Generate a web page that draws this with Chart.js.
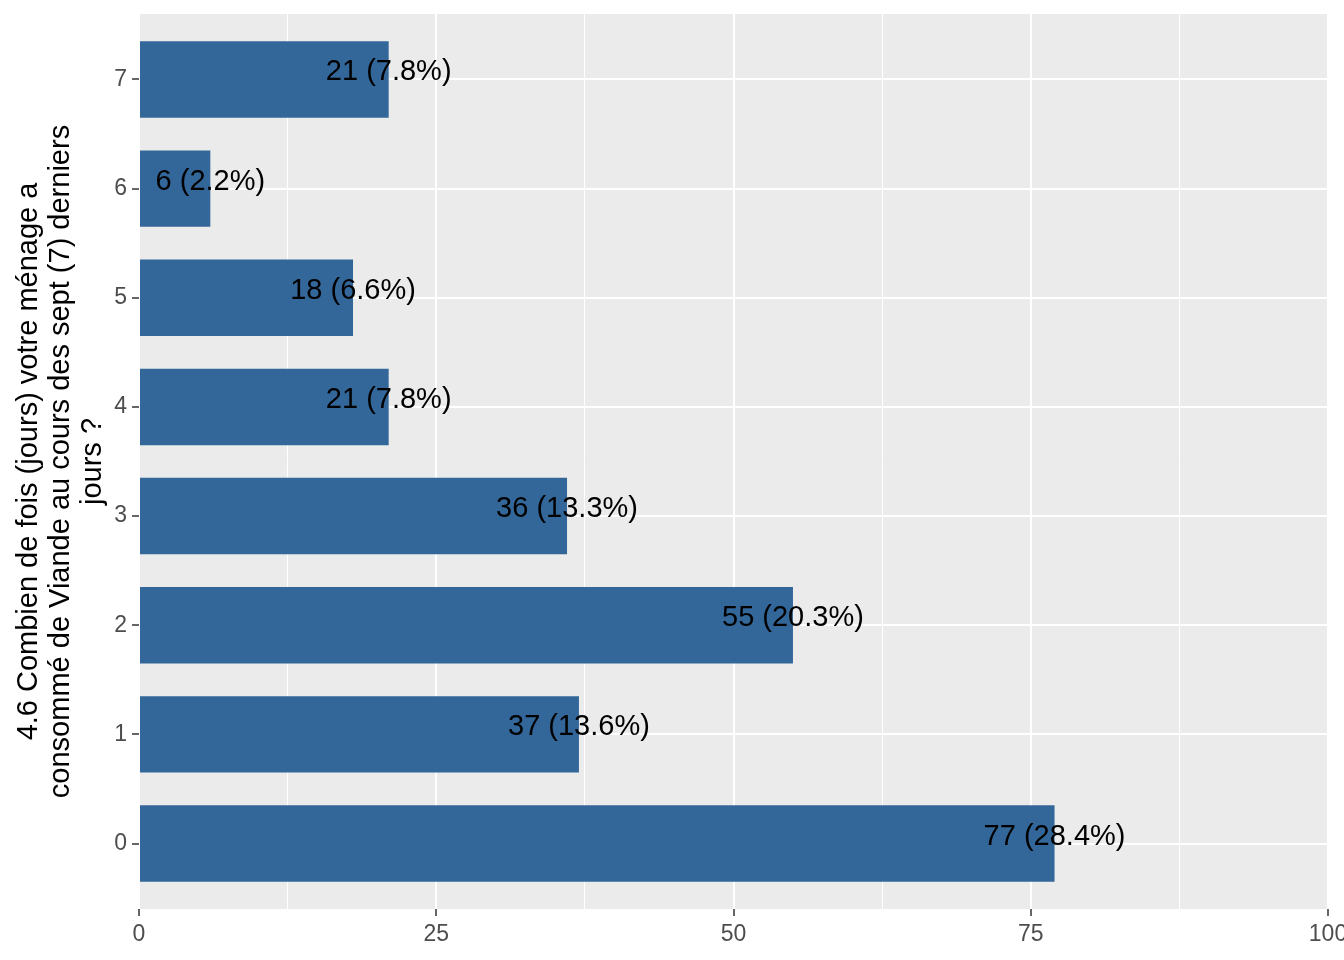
<!DOCTYPE html>
<html>
<head>
<meta charset="utf-8">
<script src="https://cdn.jsdelivr.net/npm/chart.js@4.4.1/dist/chart.umd.min.js"></script>
<style>
    body { margin: 0; background: #fff; }
    #wrap { width: 1344px; height: 960px; }
</style>
</head>
<body>
<div id="wrap"><canvas id="myChart"></canvas></div>
<script>
var jours = ['0', '1', '2', '3', '4', '5', '6', '7'];
var menages = [77, 37, 55, 36, 21, 18, 6, 21];
var pourcents = ['28.4%', '13.6%', '20.3%', '13.3%', '7.8%', '6.6%', '2.2%', '7.8%'];
var xTicks = [0, 25, 50, 75, 100];
var titreY = [
    '4.6 Combien de fois (jours) votre ménage a',
    'consommé de Viande au cours des sept (7) derniers',
    'jours ?'
];

Chart.defaults.font.family = '"Liberation Sans", Arial, sans-serif';

// fond gris du panneau, comme ggplot
var fondPanel = {
    id: 'fondPanel',
    beforeDraw: function(chart) {
        var a = chart.chartArea;
        var ctx = chart.ctx;
        ctx.save();
        ctx.fillStyle = '#EBEBEB';
        ctx.fillRect(a.left, a.top, a.right - a.left, a.bottom - a.top);
        ctx.restore();
    }
};

// texte "n (pct)" au bout de chaque barre
var etiquettes = {
    id: 'etiquettes',
    afterDatasetsDraw: function(chart) {
        var ctx = chart.ctx;
        var xs = chart.scales.x;
        var ys = chart.scales.y;
        ctx.save();
        ctx.font = '29px "Liberation Sans", Arial, sans-serif';
        ctx.fillStyle = '#000000';
        ctx.textAlign = 'center';
        ctx.textBaseline = 'alphabetic';
        for (var i = 0; i < menages.length; i++) {
            ctx.fillText(menages[i] + ' (' + pourcents[i] + ')',
                xs.getPixelForValue(menages[i]), ys.getPixelForValue(i) + 1);
        }
        ctx.restore();
    }
};

var points = [];
for (var i in menages) {
    points.push({ x: menages[i], y: Number(i) });
}

function estMajeur(v) {
    return xTicks.indexOf(v) >= 0;
}

var ctx = document.getElementById('myChart');

var graphe = new Chart(ctx, {
    type: 'bar',
    data: {
        datasets: [{
            data: points,
            backgroundColor: '#336699',
            borderWidth: 0,
            barPercentage: 0.7,
            categoryPercentage: 1
        }]
    },
    options: {
        indexAxis: 'y',
        responsive: true,
        maintainAspectRatio: false,
        animation: false,
        layout: { padding: { top: 14, right: 16, left: 0, bottom: 0 } },
        plugins: {
            legend: { display: false },
            tooltip: { enabled: false }
        },
        scales: {
            x: {
                type: 'linear',
                min: 0,
                max: 100,
                afterBuildTicks: function(scale) {
                    var t = [];
                    for (var k = 0; k < xTicks.length; k++) {
                        t.push({ value: xTicks[k] });
                        if (k < xTicks.length - 1) {
                            t.push({ value: (xTicks[k] + xTicks[k + 1]) / 2 });
                        }
                    }
                    scale.ticks = t;
                },
                afterFit: function(scale) {
                    scale.height = 51;
                    scale.paddingLeft = 0;
                    scale.paddingRight = 0;
                },
                ticks: {
                    autoSkip: false,
                    maxRotation: 0,
                    padding: 5,
                    color: '#4D4D4D',
                    font: { size: 23 },
                    callback: function(value) {
                        return estMajeur(value) ? value : '';
                    }
                },
                grid: {
                    color: '#FFFFFF',
                    lineWidth: function(c) {
                        return estMajeur(c.tick.value) ? 2 : 1;
                    },
                    tickColor: function(c) {
                        return estMajeur(c.tick.value) ? '#333333' : 'rgba(0,0,0,0)';
                    },
                    tickWidth: 1.5,
                    tickLength: 7
                },
                border: { display: false }
            },
            y: {
                type: 'linear',
                min: -0.6,
                max: 7.6,
                offset: false,
                afterBuildTicks: function(scale) {
                    scale.ticks = jours.map(function(c, k) { return { value: k }; });
                },
                afterFit: function(scale) {
                    scale.width = 139;
                    scale.paddingTop = 0;
                    scale.paddingBottom = 0;
                },
                ticks: {
                    autoSkip: false,
                    padding: 5,
                    color: '#4D4D4D',
                    font: { size: 23 },
                    callback: function(value) {
                        return jours[value];
                    }
                },
                grid: {
                    offset: false,
                    color: '#FFFFFF',
                    lineWidth: 2,
                    tickColor: '#333333',
                    tickWidth: 1.5,
                    tickLength: 7
                },
                border: { display: false },
                title: {
                    display: true,
                    text: titreY,
                    color: '#000000',
                    font: { size: 29, lineHeight: 1.1 },
                    padding: { top: 13, bottom: 0 }
                }
            }
        }
    },
    plugins: [fondPanel, etiquettes]
});
</script>
</body>
</html>
